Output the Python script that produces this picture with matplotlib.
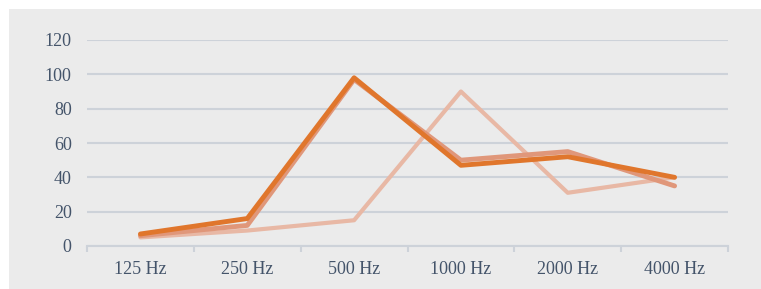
import matplotlib.pyplot as plt
from matplotlib.patches import Rectangle

# Data
freqs = ['125 Hz', '250 Hz', '500 Hz', '1000 Hz', '2000 Hz', '4000 Hz']
series_light = [5, 9, 15, 90, 31, 40]
series_mid = [6, 12, 97, 50, 55, 35]
series_dark = [7, 16, 98, 47, 52, 40]
y_ticks = [0, 20, 40, 60, 80, 100, 120]

text_color = '#44546A'
grid_color = '#CDD2D9'

plt.rcParams['font.family'] = ['Liberation Serif', 'DejaVu Serif']

fig = plt.figure(figsize=(7.61, 2.89), dpi=100)
fig.patches.append(Rectangle((9 / 761, 0), 1, 1 - 9 / 289, transform=fig.transFigure,
                             facecolor='#EBEBEB', edgecolor='none', zorder=-10))

ax = fig.add_axes([87 / 761, 1 - 246 / 289, (728 - 87) / 761, (246 - 40) / 289])
ax.set_facecolor('none')

x = list(range(len(freqs)))
ax.plot(x, series_light, color='#E8B8A5', lw=3.0, solid_capstyle='round', zorder=3)
ax.plot(x, series_mid, color='#E0977A', lw=3.5, solid_capstyle='round', zorder=4)
ax.plot(x, series_dark, color='#E0762C', lw=3.5, solid_capstyle='round', zorder=5)

ax.set_xlim(-0.5, len(freqs) - 0.5)
ax.set_ylim(0, 120)
ax.set_yticks(y_ticks)
ax.set_xticks(x)
ax.set_xticklabels(freqs)
ax.set_xticks([i - 0.5 for i in range(len(freqs) + 1)], minor=True)

ax.grid(axis='y', color=grid_color, lw=1.5, zorder=1)
for s in ['top', 'right', 'left']:
    ax.spines[s].set_visible(False)
ax.spines['bottom'].set_color(grid_color)
ax.spines['bottom'].set_linewidth(1.5)

ax.tick_params(axis='y', length=0, pad=11, labelsize=13, labelcolor=text_color)
ax.tick_params(axis='x', which='major', length=0, pad=11, labelsize=13, labelcolor=text_color)
ax.tick_params(axis='x', which='minor', length=4, width=1.5, color=grid_color)

fig.savefig('out.png', dpi=100)
